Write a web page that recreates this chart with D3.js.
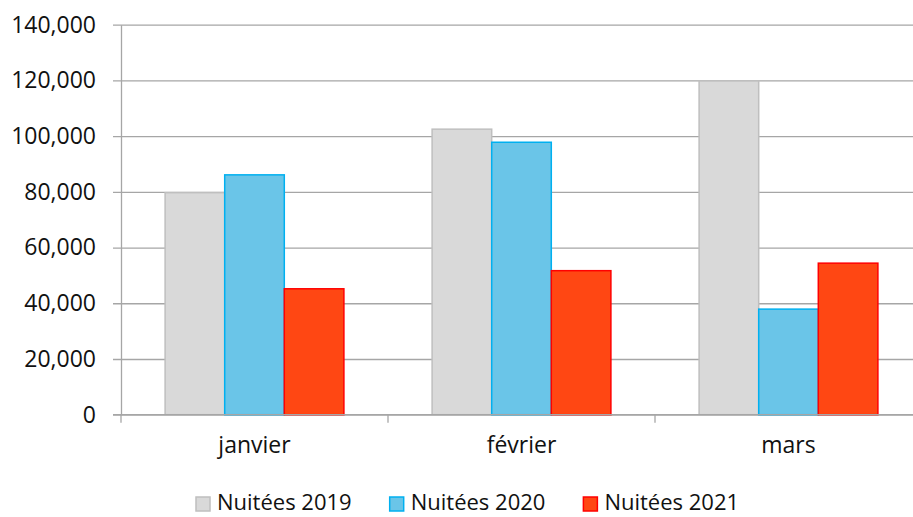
<!DOCTYPE html>
<html>
<head>
<meta charset="utf-8">
<script src="https://cdn.jsdelivr.net/npm/d3@7"></script>
<style>
  body { margin: 0; background: #fff; }
  svg { display: block; font-family: "Open Sans", sans-serif; }
</style>
</head>
<body>
<script>
  // Data
  const months = ['janvier', 'février', 'mars'];
  const series = ['Nuitées 2019', 'Nuitées 2020', 'Nuitées 2021'];
  const nuitees2019 = [79700, 102500, 119800];
  const nuitees2020 = [86100, 97800, 37900];
  const nuitees2021 = [45200, 51700, 54400];
  const yTicks = [0, 20000, 40000, 60000, 80000, 100000, 120000, 140000];

  const values = [nuitees2019, nuitees2020, nuitees2021];

  const width = 913;
  const height = 517;
  const plot = { left: 121, right: 922, top: 24.7, bottom: 414.7 };

  const fills = ['#d9d9d9', '#6ac5e8', '#ff4713'];
  const strokes = ['#bfbfbf', '#00b0f0', '#ff0000'];
  const gridColor = '#a6a6a6';
  const textColor = '#111';
  const fontSize = 23;

  const svg = d3.select('body')
    .append('svg')
    .attr('width', width)
    .attr('height', height);

  // Scales
  const x = d3.scaleBand()
    .domain(months)
    .range([plot.left, plot.right])
    .paddingInner(0)
    .paddingOuter(0);

  const xs = d3.scaleBand()
    .domain(series)
    .range([0, x.bandwidth()])
    .paddingOuter(0.74)
    .paddingInner(0);

  const y = d3.scaleLinear()
    .domain([0, 140000])
    .range([plot.bottom, plot.top]);

  // Gridlines + y axis
  const yAxis = d3.axisLeft(y)
    .tickValues(yTicks)
    .tickSizeInner(-(plot.right - plot.left))
    .tickSizeOuter(0)
    .tickPadding(25)
    .tickFormat(d3.format(','));

  const gy = svg.append('g')
    .attr('transform', `translate(${plot.left},0)`)
    .call(yAxis);
  gy.select('.domain').attr('stroke', gridColor).attr('stroke-width', 1.3);
  gy.selectAll('.tick line')
    .attr('x1', -8)
    .attr('stroke', gridColor)
    .attr('stroke-width', 1.3);
  gy.selectAll('.tick text')
    .attr('fill', textColor)
    .style('font-size', fontSize + 'px')
    .style('font-family', '"Open Sans", sans-serif');

  // Bars
  const groups = svg.append('g')
    .selectAll('g')
    .data(months)
    .join('g')
    .attr('transform', d => `translate(${x(d)},0)`);

  groups.selectAll('rect')
    .data((m, mi) => series.map((s, si) => ({ s, si, v: values[si][mi] })))
    .join('rect')
    .attr('x', d => xs(d.s))
    .attr('width', xs.bandwidth())
    .attr('y', d => y(d.v))
    .attr('height', d => y(0) - y(d.v))
    .attr('fill', d => fills[d.si])
    .attr('stroke', d => strokes[d.si])
    .attr('stroke-width', 1.5);

  // X axis
  const xAxis = d3.axisBottom(x)
    .tickSize(0)
    .tickPadding(22);

  const gx = svg.append('g')
    .attr('transform', `translate(0,${plot.bottom})`)
    .call(xAxis);
  gx.select('.domain').remove();
  gx.selectAll('.tick text')
    .attr('fill', textColor)
    .style('font-size', fontSize + 'px')
    .style('font-family', '"Open Sans", sans-serif');

  svg.append('line')
    .attr('x1', plot.left - 8)
    .attr('x2', plot.right)
    .attr('y1', plot.bottom)
    .attr('y2', plot.bottom)
    .attr('stroke', gridColor)
    .attr('stroke-width', 1.3);

  // category separators
  svg.append('g')
    .selectAll('line')
    .data(months.concat(['end']))
    .join('line')
    .attr('x1', (d, i) => i < months.length ? x(d) : plot.right)
    .attr('x2', (d, i) => i < months.length ? x(d) : plot.right)
    .attr('y1', plot.bottom)
    .attr('y2', plot.bottom + 8)
    .attr('stroke', gridColor)
    .attr('stroke-width', 1.3);

  // Legend
  const leg = svg.append('g')
    .attr('transform', 'translate(196,497)');
  let lx = 0;
  series.forEach((s, i) => {
    const item = leg.append('g').attr('transform', `translate(${lx},0)`);
    item.append('rect')
      .attr('x', 0)
      .attr('y', 0)
      .attr('width', 14)
      .attr('height', 14)
      .attr('fill', fills[i])
      .attr('stroke', strokes[i])
      .attr('stroke-width', 1.5);
    const t = item.append('text')
      .attr('x', 21)
      .attr('y', 13)
      .attr('fill', textColor)
      .style('font-size', '22px')
      .text(s);
    lx += 21 + t.node().getComputedTextLength() + 38;
  });
</script>
</body>
</html>
